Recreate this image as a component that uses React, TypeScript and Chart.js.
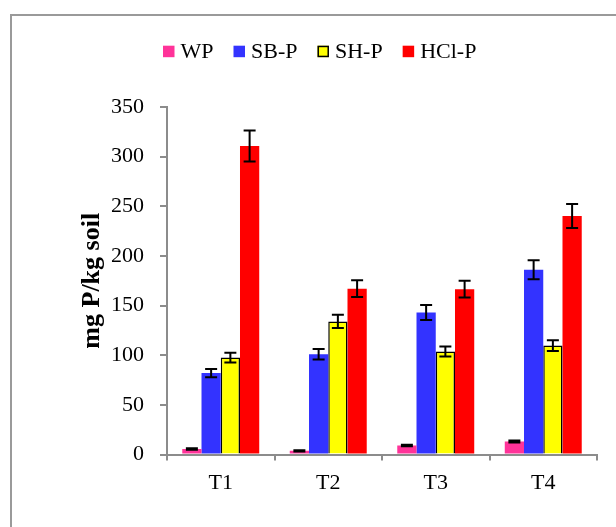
import React, { useEffect, useRef } from 'react';
import { Chart, registerables } from 'chart.js';

Chart.register(...registerables);

const categories = ['T1', 'T2', 'T3', 'T4'];
const seriesNames = ['WP', 'SB-P', 'SH-P', 'HCl-P'];
const wpValues = [5.5, 3.7, 9, 13];
const wpErrors = [0.8, 0.6, 0.8, 1];
const sbpValues = [82, 101, 143, 186];
const sbpErrors = [4.2, 5.2, 7.5, 9.6];
const shpValues = [97.6, 134, 103.7, 109.7];
const shpErrors = [5, 6.7, 5, 5.4];
const hclValues = [310.7, 167, 166.5, 240.3];
const hclErrors = [15.6, 8.4, 8.4, 12.1];
const yTickValues = [0, 50, 100, 150, 200, 250, 300, 350];
const yAxisTitle = 'mg P/kg soil';

const FONT = '"Liberation Serif", "Times New Roman", serif';
const AXIS_GREY = '#8c8c8c';

const errorBarsPlugin = {
  id: 'errorBars',
  afterDatasetsDraw(chart: any) {
    const ctx = chart.ctx;
    const yScale = chart.scales.y;
    ctx.save();
    ctx.strokeStyle = '#000';
    ctx.lineWidth = 2;
    chart.data.datasets.forEach((ds: any, di: number) => {
      const meta = chart.getDatasetMeta(di);
      meta.data.forEach((bar: any, i: number) => {
        const v = ds.data[i];
        const e = ds.errors[i];
        const top = yScale.getPixelForValue(v + e);
        const bot = yScale.getPixelForValue(v - e);
        const x = bar.x;
        const hw = 6;
        ctx.beginPath();
        ctx.moveTo(x, top);
        ctx.lineTo(x, bot);
        ctx.moveTo(x - hw, top);
        ctx.lineTo(x + hw, top);
        ctx.moveTo(x - hw, bot);
        ctx.lineTo(x + hw, bot);
        ctx.stroke();
      });
    });
    ctx.restore();
  },
};

const legendPlugin = {
  id: 'customLegend',
  afterDraw(chart: any) {
    const ctx = chart.ctx;
    ctx.save();
    ctx.font = `22px ${FONT}`;
    ctx.textBaseline = 'alphabetic';
    ctx.textAlign = 'left';
    let x = 163;
    const box = 11.5;
    const boxTop = 45.7;
    const baseline = 58.3;
    chart.data.datasets.forEach((ds: any) => {
      ctx.fillStyle = ds.backgroundColor;
      ctx.fillRect(x, boxTop, box, box);
      if (ds.borderWidth) {
        ctx.strokeStyle = ds.borderColor;
        ctx.lineWidth = 1.5;
        ctx.strokeRect(x + 0.75, boxTop + 0.75, box - 1.5, box - 1.5);
      }
      x += box + 6;
      ctx.fillStyle = '#000';
      ctx.fillText(ds.label, x, baseline);
      x += ctx.measureText(ds.label).width + 20;
    });
    ctx.restore();
  },
};

export default function App() {
  const canvasRef = useRef<HTMLCanvasElement | null>(null);

  useEffect(() => {
    if (!canvasRef.current) return;
    const chart = new Chart(canvasRef.current, {
      type: 'bar',
      data: {
        labels: categories,
        datasets: [
          { label: seriesNames[0], data: wpValues, errors: wpErrors, backgroundColor: '#FF3399', borderWidth: 0 } as any,
          { label: seriesNames[1], data: sbpValues, errors: sbpErrors, backgroundColor: '#3333FF', borderWidth: 0 } as any,
          { label: seriesNames[2], data: shpValues, errors: shpErrors, backgroundColor: '#FFFF00', borderColor: '#000000', borderWidth: 1.5, borderSkipped: 'start' } as any,
          { label: seriesNames[3], data: hclValues, errors: hclErrors, backgroundColor: '#FF0000', borderWidth: 0 } as any,
        ],
      },
      options: {
        responsive: false,
        animation: false,
        devicePixelRatio: 1,
        layout: { padding: { top: 107, right: 19, bottom: 0, left: 0 } },
        plugins: {
          legend: { display: false },
          tooltip: { enabled: false },
        },
        datasets: {
          bar: { barPercentage: 1, categoryPercentage: 0.716 },
        },
        scales: {
          x: {
            offset: true,
            grid: {
              display: true,
              drawOnChartArea: false,
              drawTicks: true,
              tickLength: 6,
              color: AXIS_GREY,
              lineWidth: 2,
              offset: true,
            },
            border: { display: true, color: AXIS_GREY, width: 2 },
            ticks: {
              color: '#000',
              font: { family: FONT, size: 22 },
              padding: 10,
            },
            afterFit(scale: any) {
              scale.height = 72.5;
            },
          },
          y: {
            min: 0,
            max: 350,
            afterBuildTicks(scale: any) {
              scale.ticks = yTickValues.map((v) => ({ value: v }));
            },
            grid: {
              display: true,
              drawOnChartArea: false,
              drawTicks: true,
              tickLength: 7,
              color: AXIS_GREY,
              lineWidth: 2,
            },
            border: { display: true, color: AXIS_GREY, width: 2 },
            ticks: {
              color: '#000',
              font: { family: FONT, size: 22 },
              padding: 16,
            },
            title: {
              display: true,
              text: yAxisTitle,
              color: '#000',
              font: { family: FONT, size: 26, weight: 'bold' },
              padding: { top: 77, bottom: 0 },
            },
            afterFit(scale: any) {
              scale.width = 167;
            },
          },
        },
      },
      plugins: [errorBarsPlugin, legendPlugin],
    } as any);
    return () => chart.destroy();
  }, []);

  return (
    <div style={{ position: 'fixed', left: 0, top: 0, width: 616, height: 527, overflow: 'hidden', background: '#fff' }}>
      <div style={{ position: 'absolute', left: 10, top: 14, width: 700, height: 700, border: '2px solid #9a9a9a' }} />
      <canvas
        ref={canvasRef}
        width={616}
        height={527}
        style={{ position: 'absolute', left: 0, top: 0, width: 616, height: 527 }}
      />
    </div>
  );
}
